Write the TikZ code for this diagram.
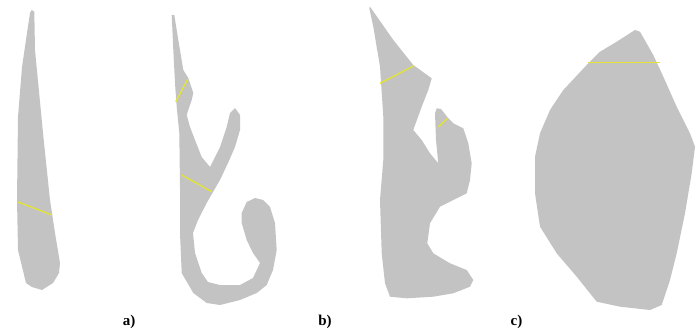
\documentclass[tikz,border=0pt]{standalone}
\usepackage{fontspec}
\setmainfont{Liberation Serif}
\definecolor{shapegray}{RGB}{195,195,195}
\definecolor{cutyellow}{RGB}{228,228,50}
\begin{document}
\begin{tikzpicture}[x=1pt,y=-1pt,
  blob/.style={fill=shapegray,draw=none},
  cut/.style={draw=cutyellow,line width=1.3pt},
  lbl/.style={font=\fontsize{15}{17}\selectfont\bfseries,inner sep=0pt}]
\useasboundingbox (0,0) rectangle (699,334);
% a)
\fill[blob] (31.7,10) -- (34.3,11.7) -- (35,50) -- (43,133) -- (50,200) -- (55,233) -- (60,263) -- (59,273) -- (53,283) -- (42,290) -- (32,287) -- (26,283) -- (18,250) -- (17,200) -- (18,117) -- (22,67) -- (27,33) -- (30,13) -- cycle;
\coordinate (a1) at (18,202); \coordinate (a2) at (52,215);
\draw[cut] (a1) -- (a2);
% b)
\fill[blob] (171.7,15) -- (174.3,15) -- (178.3,40) -- (183.3,70) -- (188.3,78) -- (193.3,93) -- (191.7,100) -- (188.3,110) -- (186.7,115) -- (190,127) -- (195,140) -- (201.7,157) -- (210,167) -- (220,147) -- (226.7,127) -- (230,113) -- (235,108) -- (240,115) -- (240,130) -- (235,147) -- (228,163) -- (220,180) -- (213,192) -- (206.7,203) -- (198,220) -- (193,233) -- (195,253) -- (201.7,273) -- (208,282) -- (220,285) -- (240,285) -- (253,278) -- (260,263) -- (253,253) -- (246.7,240) -- (241.7,223) -- (241.7,213) -- (246.7,202) -- (255,198) -- (263,200) -- (270,207) -- (275,223) -- (276.7,250) -- (273,270) -- (266.7,285) -- (256.7,293) -- (240,300) -- (220,305) -- (206.7,303) -- (193.3,293) -- (181.7,273) -- (180,233) -- (180,187) -- (179.3,133) -- (176.7,107) -- (175,83) -- (173.3,50) -- cycle;
\coordinate (b1) at (175.7,101.7); \coordinate (b2) at (187.7,79.3);
\coordinate (b3) at (181.7,175); \coordinate (b4) at (211.7,191.7);
\draw[cut] (b1) -- (b2);
\draw[cut] (b3) -- (b4);
% second b)
\fill[blob] (369.3,8.3) -- (370,6.7) -- (393.3,40) -- (413.3,65) -- (431.7,78.3) -- (428.3,90) -- (421.7,106.7) -- (413.3,130) -- (421.7,140) -- (430,153.3) -- (438.3,163.3) -- (436,140) -- (435,113.3) -- (436.7,108.3) -- (441,109) -- (448.3,118.3) -- (453.3,123.3) -- (463.3,128.3) -- (468.3,143.3) -- (471.7,163.3) -- (470,180) -- (466.7,193.3) -- (453.3,200) -- (440,206.7) -- (430,223.3) -- (427.3,243.3) -- (433.3,253.3) -- (450,263.3) -- (466.7,270) -- (473.3,280) -- (470,286.7) -- (453.3,293.3) -- (433.3,296.7) -- (406.7,298.3) -- (390,296.7) -- (385,283.3) -- (381.7,253.3) -- (380,200) -- (383.3,160) -- (383.3,116.7) -- (380,66.7) -- (373.3,26.7) -- cycle;
\coordinate (c1) at (380,83.3); \coordinate (c2) at (414,65.7);
\coordinate (c3) at (438.3,126.7); \coordinate (c4) at (447.7,118.3);
\draw[cut] (c1) -- (c2);
\draw[cut] (c3) -- (c4);
% c)
\fill[blob] (635,30) -- (640,31.7) -- (653.3,55) -- (663.3,76.7) -- (676.7,106.7) -- (690,133.3) -- (695,146.7) -- (691.7,173.3) -- (685,213.3) -- (676.7,253.3) -- (670,280) -- (661.7,305) -- (650,310) -- (620,306.7) -- (596.7,301.7) -- (576.7,276.7) -- (556.7,253.3) -- (540,226.7) -- (535,193.3) -- (535,156.7) -- (540,133.3) -- (550,110) -- (563.3,90) -- (586.7,65) -- (600,51.7) -- (616.7,41.7) -- cycle;
\coordinate (d1) at (588.3,62.7); \coordinate (d2) at (660,62.7);
\draw[cut] (d1) -- (d2);
% labels
\node[lbl] (la) at (129,321.5) {a)};
\node[lbl] (lb) at (325,321.5) {b)};
\node[lbl] (lc) at (516.5,321.5) {c)};
\end{tikzpicture}
\end{document}
